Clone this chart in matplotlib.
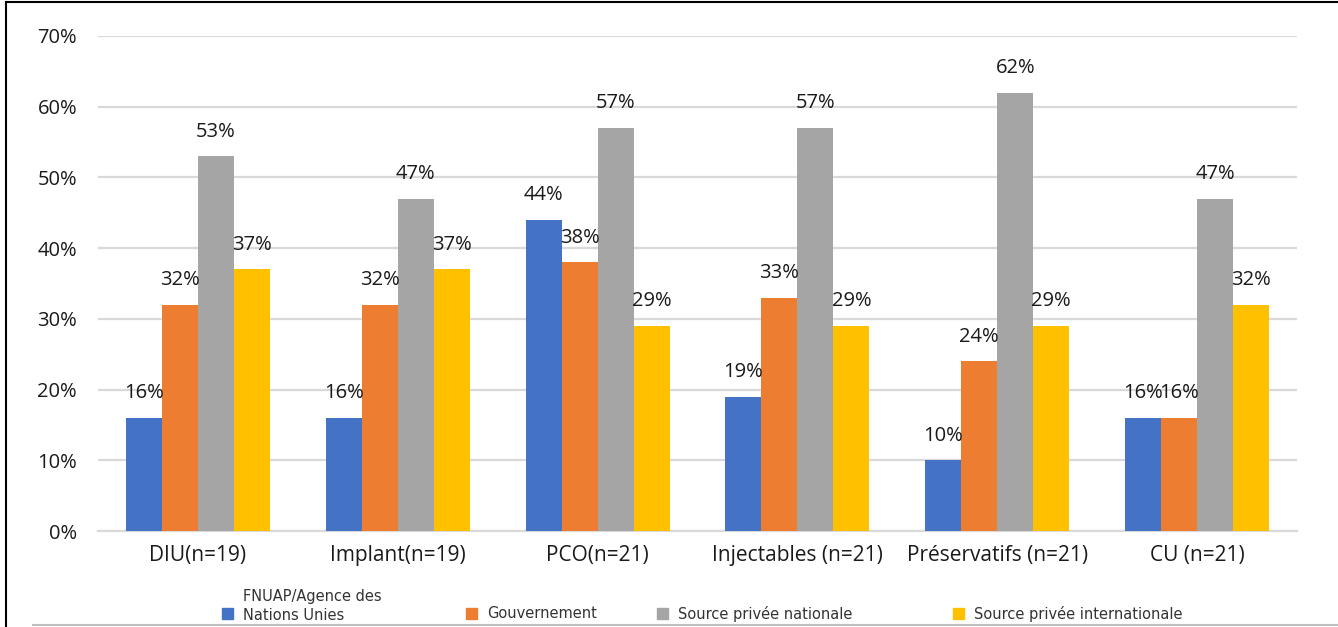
import numpy as np
import matplotlib.pyplot as plt
from matplotlib.patches import Rectangle
from matplotlib.lines import Line2D

# Catégories de méthodes et sources d'approvisionnement
categories = ['DIU(n=19)', 'Implant(n=19)', 'PCO(n=21)', 'Injectables (n=21)',
              'Préservatifs (n=21)', 'CU (n=21)']
sources = ['FNUAP/Agence des\nNations Unies', 'Gouvernement',
           'Source privée nationale', 'Source privée internationale']

fnuap = [16, 16, 44, 19, 10, 16]
gouvernement = [32, 32, 38, 33, 24, 16]
prive_national = [53, 47, 57, 57, 62, 47]
prive_international = [37, 37, 29, 29, 29, 32]

colors = ['#4472C4', '#ED7D31', '#A5A5A5', '#FFC000']
series = [fnuap, gouvernement, prive_national, prive_international]

plt.rcParams['font.family'] = ['Open Sans', 'DejaVu Sans']

fig = plt.figure(figsize=(13.38, 6.27), dpi=100)
ax = fig.add_axes([0.0732, 0.1531, 0.8962, 0.7895])

x = np.arange(len(categories))
width = 0.18
for i, (vals, col) in enumerate(zip(series, colors)):
    pos = x + (i - 1.5) * width
    bars = ax.bar(pos, np.array(vals) / 100, width, color=col, zorder=3)
    for b, v in zip(bars, vals):
        ax.annotate(f'{v}%', (b.get_x() + b.get_width() / 2, b.get_height()),
                    xytext=(0, 10.5), textcoords='offset points',
                    ha='center', va='bottom', fontsize=14.5, color='#1a1a1a',
                    zorder=4)

ax.set_xlim(-0.5, len(categories) - 0.5)
ax.set_ylim(0, 0.7)
ax.set_yticks(np.arange(0, 0.71, 0.1))
ax.set_yticklabels([f'{int(round(t * 100))}%' for t in np.arange(0, 0.71, 0.1)])
ax.set_xticks(x)
ax.set_xticklabels(categories)
ax.tick_params(axis='y', length=0, pad=15, labelsize=14.5, labelcolor='#1a1a1a')
ax.tick_params(axis='x', length=0, pad=10, labelsize=15, labelcolor='#1a1a1a')
ax.yaxis.grid(True, color='#D9D9D9', linewidth=1.6, zorder=0)
for s in ['top', 'right', 'left']:
    ax.spines[s].set_visible(False)
ax.spines['bottom'].set_color('#D9D9D9')
ax.spines['bottom'].set_linewidth(1.6)

# légende dessinée à la main sous le graphique
W, H = 1338, 627
leg_x = [222, 466, 657, 953]
for name, col, lx in zip(sources, colors, leg_x):
    fig.add_artist(Rectangle((lx / W, 1 - 619 / H), 11 / W, 11 / H,
                             transform=fig.transFigure, color=col))
    multi = '\n' in name
    fig.text((lx + 21) / W, 1 - (623 if multi else 614) / H, name, fontsize=10.5,
             family=['Liberation Sans Narrow', 'DejaVu Sans'],
             ha='left', va='bottom' if multi else 'center',
             color='#333333', linespacing=1.3)

# cadre
fig.add_artist(Line2D([6 / W, 6 / W], [0, 1 - 2 / H], color='black', lw=1.5,
                      transform=fig.transFigure))
fig.add_artist(Line2D([6 / W, 1], [1 - 2 / H, 1 - 2 / H], color='black', lw=1.5,
                      transform=fig.transFigure))
fig.add_artist(Line2D([33 / W, 1], [1 - 625 / H, 1 - 625 / H], color='#BFBFBF',
                      lw=1.5, transform=fig.transFigure))

fig.savefig('out.png', dpi=100)
